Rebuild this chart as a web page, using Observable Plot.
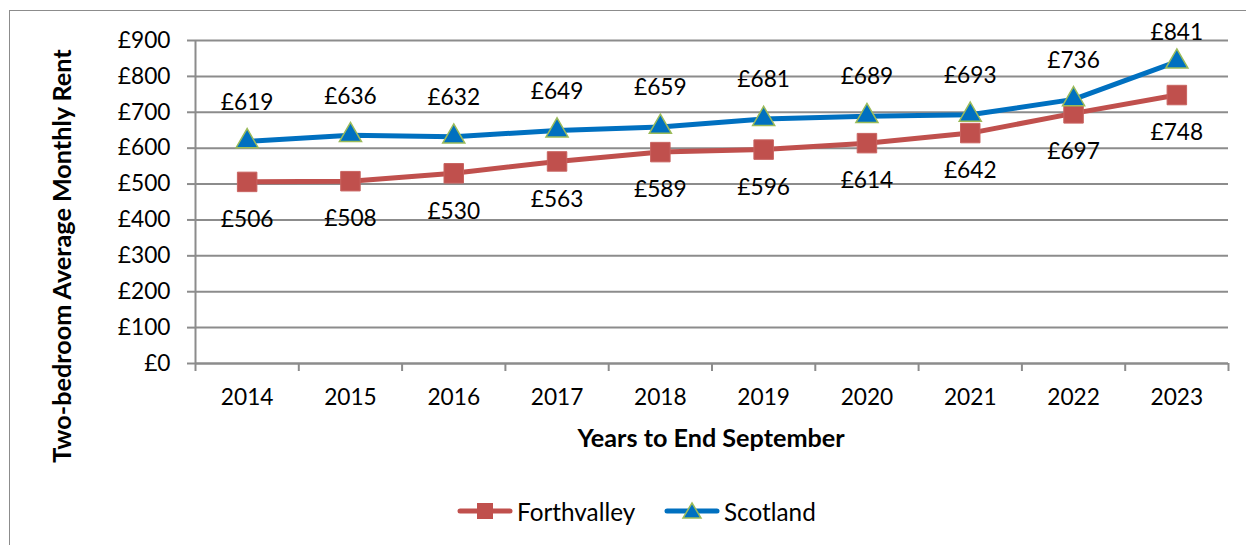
<!DOCTYPE html>
<html>
<head>
<meta charset="utf-8">
<script src="https://cdn.jsdelivr.net/npm/d3@7"></script>
<script src="https://cdn.jsdelivr.net/npm/@observablehq/plot@0.6"></script>
<style>
  html, body { margin: 0; padding: 0; background: #fff; }
  #wrap { position: relative; width: 1246px; height: 545px; overflow: hidden; font-family: Lato, "Open Sans", sans-serif; }
  #border { position: absolute; left: 9px; top: 10px; width: 1260px; height: 560px; border: 1.5px solid #8c8c8c; box-sizing: border-box; }
  #chart { position: absolute; left: 0; top: 0; }
  #legend { position: absolute; top: 496px; left: 0; width: 1246px; height: 30px; font-size: 24.3px; color: #000; }
  .item { position: absolute; top: 0; display: flex; align-items: center; height: 30px; }
  .item span { margin-left: 4px; }
</style>
</head>
<body>
<div id="wrap">
  <div id="border"></div>
  <div id="chart"></div>
  <div id="legend"></div>
</div>
<script>
const years = [2014, 2015, 2016, 2017, 2018, 2019, 2020, 2021, 2022, 2023];
const forthvalley = [506, 508, 530, 563, 589, 596, 614, 642, 697, 748];
const scotland = [619, 636, 632, 649, 659, 681, 689, 693, 736, 841];
const yTicks = [0, 100, 200, 300, 400, 500, 600, 700, 800, 900];
const seriesNames = ["Forthvalley", "Scotland"];
const colors = { Forthvalley: "#C0504D", Scotland: "#0070C0" };

const fv = years.map((y, i) => ({ year: y, value: forthvalley[i], series: "Forthvalley" }));
const sc = years.map((y, i) => ({ year: y, value: scotland[i], series: "Scotland" }));
const scMain = sc.slice(0, -1);
const scLast = sc.slice(-1);
const bounds = [years[0] - 0.5, ...years.map(y => y + 0.5)];

const font = "Lato, 'Open Sans', sans-serif";
const grid = "#8c8c8c";
const fs = 22.7;

const chart = Plot.plot({
  width: 1246,
  height: 545,
  marginLeft: 195,
  marginRight: 18,
  marginTop: 40,
  marginBottom: 182,
  style: { fontFamily: font, fontSize: fs + "px", color: "#000", background: "transparent" },
  x: { type: "linear", domain: [years[0] - 0.5, years[years.length - 1] + 0.5] },
  y: { domain: [0, 900] },
  marks: [
    Plot.gridY(yTicks, { stroke: grid, strokeOpacity: 1, strokeWidth: 2 }),
    Plot.ruleX([bounds[0]], { stroke: grid, strokeWidth: 2 }),
    Plot.ruleY([0], { stroke: grid, strokeWidth: 2 }),
    Plot.axisY({ ticks: yTicks, tickSize: 8, tickPadding: 17, stroke: grid, strokeWidth: 2, tickFormat: d => "£" + d, label: null, fontSize: fs }),
    Plot.axisX({ ticks: bounds, tickSize: 8, stroke: grid, strokeWidth: 2, tickFormat: () => "", label: null }),
    Plot.axisX({ ticks: years, tickSize: 0, tickPadding: 25, tickFormat: d => String(d), label: null, fontSize: fs }),
    Plot.line(fv, { x: "year", y: "value", stroke: colors.Forthvalley, strokeWidth: 5 }),
    Plot.line(sc, { x: "year", y: "value", stroke: colors.Scotland, strokeWidth: 5 }),
    Plot.dot(fv, { x: "year", y: "value", symbol: "square", r: 11, fill: colors.Forthvalley, stroke: "#c96461", strokeWidth: 1 }),
    Plot.dot(sc, { x: "year", y: "value", symbol: "triangle", r: 8.2, fill: colors.Scotland, stroke: "#9BBB59", strokeWidth: 1.5 }),
    Plot.text(fv, { x: "year", y: "value", text: d => "£" + d.value, dy: 38, fontSize: fs, fill: "#000" }),
    Plot.text(scMain, { x: "year", y: "value", text: d => "£" + d.value, dy: -39, fontSize: fs, fill: "#000" }),
    Plot.text(scLast, { x: "year", y: "value", text: d => "£" + d.value, dy: -29, fontSize: fs, fill: "#000" }),
    Plot.text(["Two-bedroom Average Monthly Rent"], { frameAnchor: "left", textAnchor: "middle", lineAnchor: "middle", dx: -133, dy: 54, rotate: -90, fontSize: 25.2, fontWeight: "bold", fill: "#000" }),
    Plot.text(["Years to End September"], { frameAnchor: "bottom", textAnchor: "middle", lineAnchor: "middle", dy: 75, dx: -1, fontSize: 25.2, fontWeight: "bold", fill: "#000" })
  ]
});
document.getElementById("chart").appendChild(chart);

// Legend
const legend = document.getElementById("legend");
const legendPos = { Forthvalley: 457, Scotland: 664 };
seriesNames.forEach(name => {
  const item = document.createElement("div");
  item.className = "item";
  item.style.left = legendPos[name] + "px";
  const marker = name === "Forthvalley"
    ? `<rect x="20" y="7" width="16" height="16" fill="${colors[name]}"/>`
    : `<path d="M28,7 L37,22 L19,22 Z" fill="${colors[name]}" stroke="#9BBB59" stroke-width="1.5"/>`;
  item.innerHTML = `<svg width="56" height="30"><line x1="3" y1="15" x2="53" y2="15" stroke="${colors[name]}" stroke-width="5" stroke-linecap="round"/>${marker}</svg><span>${name}</span>`;
  legend.appendChild(item);
});
</script>
</body>
</html>
